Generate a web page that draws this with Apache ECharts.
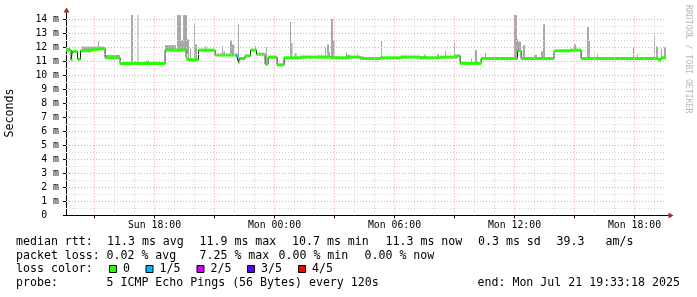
<!DOCTYPE html>
<html>
<head>
<meta charset="utf-8">
<script src="https://cdn.jsdelivr.net/npm/echarts@6.0.0/dist/echarts.min.js"></script>
<style>
html,body{margin:0;padding:0;background:#fff}
#chart{width:697px;height:297px}
</style>
</head>
<body>
<div id="chart"></div>
<script>
// median rtt, step start (hours since Sun 00:00) -> value in ms, loss level (0..4)
var medHours = [13.575, 13.83, 13.90, 14.15, 14.30, 14.83, 15.18, 15.53, 16.28, 18.53, 19.58, 19.65, 20.20, 21.03, 22.10, 22.20, 22.25, 22.53, 22.80, 23.10, 23.53, 23.68, 24.13, 24.48, 25.28, 26.78, 27.68, 28.28, 29.28, 30.28, 31.28, 32.28, 33.13, 33.28, 34.33, 36.15, 36.33, 37.98, 38.78, 39.33, 43.18, 43.33, 43.575];
var medMs    = [11.8, 11.1, 11.7, 11.15, 11.75, 11.85, 11.9, 11.25, 10.85, 11.8, 11.3, 11.12, 11.8, 11.45, 11.45, 10.9, 11.2, 11.4, 11.8, 11.5, 10.8, 11.3, 10.75, 11.25, 11.3, 11.25, 11.3, 11.2, 11.25, 11.3, 11.25, 11.3, 11.4, 10.85, 11.2, 11.75, 11.2, 11.75, 11.8, 11.2, 11.1, 11.25, 11.25];
var medLoss  = [0,0,0,0,0,0,0,0,0,0,0,0,0,0,1,0,0,0,0,0,0,0,0,0,0,0,0,0,0,0,0,0,0,0,0,0,0,0,0,0,0,0,0];

// smoke (ping spread): from/to hour, low/high ms
var smokeFrom = [13.575,14.375,15.175,15.525,16.825,17.15,17.575,18.525,19.125,19.325,19.425,19.625,19.675,19.775,19.975,20.025,20.525,21.375,21.45,21.775,21.875,22.175,23.025,23.575,24.775,24.825,25.025,25.825,26.175,26.325,26.525,26.625,26.725,26.825,26.925,27.575,27.625,28.125,29.325,30.475,31.475,32.125,32.525,32.975,33.025,33.825,34.025,34.525,35.975,36.125,36.175,36.425,36.975,37.325,37.425,38.975,39.075,39.625,39.725,40.125,41.925,42.125,42.975,43.075,43.325,43.475];
var smokeTo   = [13.775,15.475,15.225,16.275,16.925,17.2,17.725,19.075,19.325,19.425,19.625,19.675,19.725,19.825,20.025,20.125,20.575,21.425,21.525,21.875,21.975,22.225,23.075,23.625,24.825,24.9,25.1,25.875,26.225,26.375,26.575,26.725,26.775,26.925,27.0,27.625,27.775,28.175,29.375,30.625,31.525,32.225,32.575,33.025,33.125,33.875,34.125,34.575,36.125,36.175,36.325,36.525,37.125,37.425,37.525,39.075,39.125,39.725,39.775,40.175,41.975,42.175,43.025,43.175,43.375,43.575];
var smokeLo   = [11.75,11.8,11.9,11.25,10.85,10.85,10.85,11.8,11.8,11.8,11.8,11.5,11.2,11.2,11.2,11.2,11.8,11.45,11.45,11.45,11.45,11.0,11.8,10.8,11.25,11.25,11.25,11.25,11.25,11.25,11.25,11.25,11.25,11.25,11.25,11.25,11.25,11.25,11.25,11.25,11.25,11.25,11.25,11.25,11.25,10.85,10.85,11.2,11.2,11.75,11.75,11.2,11.2,11.2,11.2,11.8,11.8,11.2,11.2,11.2,11.2,11.2,11.2,11.2,11.2,11.2];
var smokeHi   = [11.95,12.05,12.45,11.45,14.3,14.3,11.05,12.15,14.3,12.5,14.3,12.55,12.55,11.9,13.7,12.2,12.05,12.1,11.7,12.5,12.2,13.65,12.1,12.0,13.8,12.3,11.57,11.4,11.5,11.5,12.0,12.2,11.65,14.0,12.45,11.65,11.45,11.57,12.45,11.4,11.5,11.5,11.75,12.3,11.5,11.2,11.8,11.6,14.3,12.6,12.4,12.15,11.45,11.7,13.65,12.2,11.9,13.45,12.45,11.57,12.0,11.5,12.8,12.05,11.9,12.0];

var xLabelHours = [18, 24, 30, 36, 42];
var xLabelText = ['Sun 18:00', 'Mon 00:00', 'Mon 06:00', 'Mon 12:00', 'Mon 18:00'];
var yTicks = [0,1,2,3,4,5,6,7,8,9,10,11,12,13,14];
var lossColors = ['#26ff00', '#00b8ff', '#d400ff', '#5a00ff', '#ff0000'];
var lossNames = ['0', '1/5', '2/5', '3/5', '4/5'];
var startHour = 13.575, endHour = 43.575;

var MONO = '"DejaVu Sans Mono", monospace';

var smokeData = smokeFrom.map(function (f, i) { return [f, smokeTo[i], smokeLo[i], smokeHi[i]]; });
var medLine = medHours.map(function (h, i) { return [h, medMs[i]]; });
var medSeg = [];
for (var i = 0; i < medHours.length - 1; i++) {
  medSeg.push([medHours[i], medHours[i + 1], medMs[i], medLoss[i]]);
}

// grid lines
var gridLines = [];
for (var h = 14; h <= 43; h++) {
  gridLines.push({xAxis: h, lineStyle: {color: h % 3 === 0 ? '#f2a0a0' : '#d0d0d0'}});
}
for (var v = 0.5; v <= 14.01; v += 0.5) {
  gridLines.push({yAxis: v, lineStyle: {color: v % 1 === 0 ? '#f2a0a0' : '#d8d8d8'}});
}

var myChart = echarts.init(document.getElementById('chart'), null, {renderer: 'canvas'});

function txt(x, y, s) {
  return {type: 'text', x: x, y: y, silent: true,
    style: {text: s, font: '11.6px ' + MONO, fill: '#000', align: 'left', verticalAlign: 'middle',
      textAlign: 'left', textVerticalAlign: 'middle'}};
}

var graphics = [
  txt(16, 242, 'median rtt:'), txt(107, 242, '11.3 ms avg'), txt(199.5, 242, '11.9 ms max'),
  txt(292, 242, '10.7 ms min'), txt(385.5, 242, '11.3 ms now'), txt(478, 242, '0.3 ms sd'),
  txt(556.5, 242, '39.3'), txt(605.5, 242, 'am/s'),
  txt(16, 255.5, 'packet loss:'), txt(106.5, 255.5, '0.02 % avg'), txt(199.5, 255.5, '7.25 % max'),
  txt(278.5, 255.5, '0.00 % min'), txt(364.5, 255.5, '0.00 % now'),
  txt(16, 269, 'loss color:'),
  txt(16, 283, 'probe:'), txt(106.5, 283, '5 ICMP Echo Pings (56 Bytes) every 120s'),
  txt(477.5, 283, 'end: Mon Jul 21 19:33:18 2025'),
  {type: 'text', x: 10, y: 113, rotation: Math.PI / 2, silent: true,
    style: {text: 'Seconds', font: '11.6px ' + MONO, fill: '#000', align: 'center', verticalAlign: 'middle',
      textAlign: 'center', textVerticalAlign: 'middle'}},
  {type: 'text', x: 688, y: 5, rotation: -Math.PI / 2, silent: true,
    style: {text: 'RRDTOOL / TOBI OETIKER', font: '8.2px ' + MONO, fill: '#b8b8b8', align: 'left', verticalAlign: 'middle',
      textAlign: 'left', textVerticalAlign: 'middle'}},
  // axis arrows
  {type: 'polygon', silent: true, shape: {points: [[63.5, 12.5], [69.5, 12.5], [66.5, 7.5]]}, style: {fill: '#a02828'}},
  {type: 'polygon', silent: true, shape: {points: [[668.5, 212.5], [668.5, 218.5], [673.5, 215.5]]}, style: {fill: '#a02828'}},
  {type: 'line', silent: true, shape: {x1: 66.5, y1: 15.5, x2: 66.5, y2: 12.5}, style: {stroke: '#000', lineWidth: 1}},
  {type: 'line', silent: true, shape: {x1: 666, y1: 215.5, x2: 668.5, y2: 215.5}, style: {stroke: '#000', lineWidth: 1}}
];
var boxX = [109, 145.5, 196.5, 247, 298];
var nameX = [123, 159.5, 210.5, 261, 312];
lossColors.forEach(function (c, i) {
  graphics.push({type: 'rect', silent: true, shape: {x: boxX[i] + 0.5, y: 265.5, width: 7, height: 7},
    style: {fill: c, stroke: '#000', lineWidth: 1}});
  graphics.push(txt(nameX[i], 269, lossNames[i]));
});

var option = {
  animation: false,
  backgroundColor: '#fff',
  grid: {left: 66, right: 31, top: 15.1, bottom: 81.7, containLabel: false},
  xAxis: {
    type: 'value', min: startHour, max: endHour,
    axisLine: {show: true, lineStyle: {color: '#000', width: 1}},
    axisTick: {show: true, length: 3, customValues: [15, 18, 21, 24, 27, 30, 33, 36, 39, 42], lineStyle: {color: '#000'}},
    axisLabel: {customValues: xLabelHours, margin: 5, fontFamily: MONO, fontSize: 9.8, color: '#000',
      formatter: function (val) { return xLabelText[xLabelHours.indexOf(Math.round(val))] || ''; }},
    splitLine: {show: false}
  },
  yAxis: {
    type: 'value', min: 0, max: 14.3,
    axisLine: {show: true, lineStyle: {color: '#000', width: 1}},
    axisTick: {show: true, length: 3, customValues: yTicks, lineStyle: {color: '#000'}},
    axisLabel: {customValues: yTicks, margin: 7, fontFamily: MONO, fontSize: 9.8, color: '#000',
      formatter: function (val) { return val === 0 ? '0  ' : val + ' m'; }},
    splitLine: {show: false}
  },
  graphic: graphics,
  series: [
    {
      type: 'line', data: [], z: 0, silent: true,
      markLine: {silent: true, symbol: ['none', 'none'], label: {show: false},
        lineStyle: {type: [1, 2], width: 1}, data: gridLines, animation: false}
    },
    {
      type: 'custom', z: 2, silent: true, data: smokeData,
      renderItem: function (params, api) {
        var p0 = api.coord([api.value(0), api.value(3)]);
        var p1 = api.coord([api.value(1), api.value(2)]);
        var rect = echarts.graphic.clipRectByRect(
          {x: p0[0], y: p0[1], width: Math.max(p1[0] - p0[0], 1), height: p1[1] - p0[1]},
          {x: params.coordSys.x, y: params.coordSys.y, width: params.coordSys.width, height: params.coordSys.height});
        return rect && {type: 'rect', shape: rect, style: {fill: '#a8a8a8'}};
      }
    },
    {
      type: 'line', z: 3, silent: true, step: 'end', data: medLine, symbol: 'none',
      lineStyle: {color: '#202020', width: 1}
    },
    {
      type: 'custom', z: 4, silent: true, data: medSeg,
      renderItem: function (params, api) {
        var p0 = api.coord([api.value(0), api.value(2)]);
        var p1 = api.coord([api.value(1), api.value(2)]);
        return {type: 'rect', shape: {x: p0[0], y: p0[1] - 1.5, width: p1[0] - p0[0], height: 3},
          style: {fill: lossColors[api.value(3)]}};
      }
    }
  ]
};
myChart.setOption(option);
</script>
</body>
</html>
